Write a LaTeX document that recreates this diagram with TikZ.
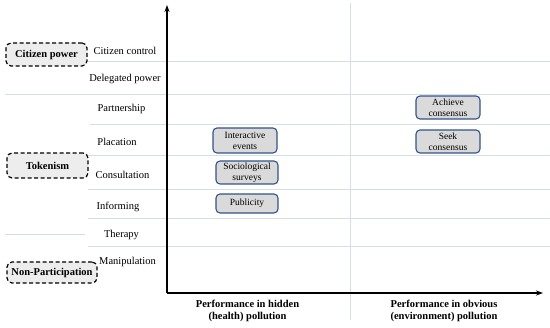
\documentclass[tikz,border=0pt]{standalone}
\usepackage{fontspec}
\setmainfont{Liberation Serif}
\usetikzlibrary{arrows.meta}
\definecolor{gridc}{RGB}{214,222,230}
\definecolor{itemborder}{RGB}{52,82,140}
\definecolor{itemfill}{RGB}{218,218,218}
\begin{document}
\begin{tikzpicture}[x=1pt,y=-1pt,
  grid/.style={draw=gridc,line width=0.6pt},
  axis/.style={draw=black,line width=1.4pt,-{Stealth[length=7pt,width=5pt]}},
  level/.style={font=\fontsize{10.5}{12}\selectfont,inner sep=0pt},
  group/.style={draw=black,dashed,dash pattern=on 4pt off 2.5pt,line width=1.2pt,rounded corners=5pt,fill=black!7,font=\fontsize{10.5}{12}\selectfont\bfseries,inner sep=0pt},
  item/.style={draw=itemborder,line width=1.1pt,rounded corners=4pt,fill=itemfill,font=\fontsize{9.5}{11}\selectfont,align=center,inner sep=0pt,minimum width=64pt},
  xlab/.style={font=\fontsize{10.5}{12}\selectfont\bfseries,align=center,inner sep=0pt}]
\useasboundingbox (0,0) rectangle (550,328);
% grid lines
\coordinate (g1a) at (88,61);  \coordinate (g1b) at (550,61);
\coordinate (g2a) at (5,94);   \coordinate (g2b) at (550,94);
\coordinate (g3a) at (90,124); \coordinate (g3b) at (550,124);
\coordinate (g4a) at (88,155); \coordinate (g4b) at (550,155);
\coordinate (g5a) at (88,189); \coordinate (g5b) at (550,189);
\coordinate (g6a) at (88,218); \coordinate (g6b) at (550,218);
\coordinate (g7a) at (5,234);  \coordinate (g7b) at (85,234);
\coordinate (g8a) at (88,246); \coordinate (g8b) at (550,246);
\coordinate (va) at (350,3);   \coordinate (vb) at (350,320);
\foreach \i in {1,...,8} {\draw[grid] (g\i a) -- (g\i b);}
\draw[grid] (va) -- (vb);
% axes
\coordinate (o) at (167,293);
\coordinate (ytop) at (167,5);
\coordinate (xend) at (543,293);
\draw[axis] (o) -- (ytop);
\draw[axis] (o) -- (xend);
% levels
\node[level] (l1) at (125,51) {Citizen control};
\node[level] (l2) at (125,79) {Delegated power};
\node[level] (l3) at (121.5,109) {Partnership};
\node[level] (l4) at (117,142) {Placation};
\node[level] (l5) at (122.5,175) {Consultation};
\node[level] (l6) at (118,207) {Informing};
\node[level] (l7) at (121.5,235) {Therapy};
\node[level] (l8) at (127.5,262) {Manipulation};
% groups
\node[group,minimum width=81pt,minimum height=23pt] (cp) at (46.5,54.5) {Citizen power};
\node[group,minimum width=81pt,minimum height=25pt] (tk) at (47.5,165.5) {Tokenism};
\node[group,minimum width=90pt,minimum height=21pt] (np) at (52,272.5) {Non-Participation};
% items
\node[item,minimum height=25pt] (ie) at (245,140.5) {Interactive\\events};
\node[item,minimum height=23pt,minimum width=62pt] (ss) at (247,172.5) {Sociological\\surveys};
\node[item,minimum height=19pt,minimum width=62pt] (pu) at (247,203.5) {Publicity};
\node[item,minimum height=23pt] (ac) at (448,107.5) {Achieve\\consensus};
\node[item,minimum height=23pt] (sc) at (448,141.5) {Seek\\consensus};
% x labels
\node[xlab] (x1) at (247.5,311) {Performance in hidden\\(health) pollution};
\node[xlab] (x2) at (444,311) {Performance in obvious\\(environment) pollution};
\end{tikzpicture}
\end{document}
